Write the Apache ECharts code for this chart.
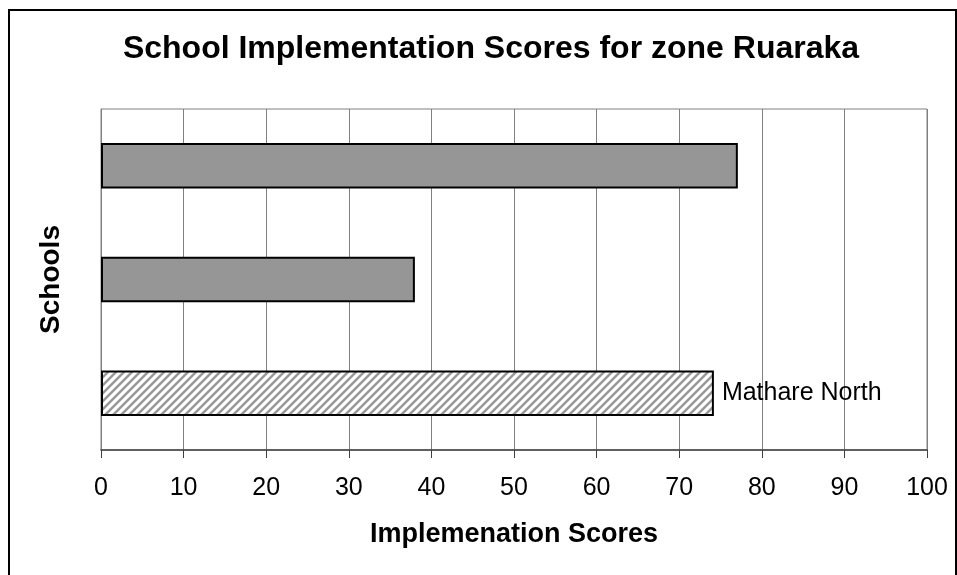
<!DOCTYPE html>
<html>
<head>
<meta charset="utf-8">
<title>School Implementation Scores</title>
<script src="https://cdn.jsdelivr.net/npm/echarts@6/dist/echarts.min.js"></script>
<style>
  html, body { margin: 0; padding: 0; background: #fff; }
  #chart { width: 957px; height: 575px; }
</style>
</head>
<body>
<div id="chart"></div>
<script>
// bottom to top, as the category axis draws them
const schools = ['Mathare North', 'School 2', 'School 3'];
const scores = [74.2, 38.0, 77.1];
const highlight = 'Mathare North';
const xTicks = [0, 10, 20, 30, 40, 50, 60, 70, 80, 90, 100];

const FONT = '"Liberation Sans", Arial, sans-serif';

// diagonal hatch for the highlighted school
const hatch = document.createElement('canvas');
hatch.width = 8;
hatch.height = 8;
const hc = hatch.getContext('2d');
hc.fillStyle = '#fff';
hc.fillRect(0, 0, 8, 8);
hc.strokeStyle = '#999999';
hc.lineWidth = 2.5;
hc.beginPath();
hc.moveTo(-2, 10); hc.lineTo(10, -2);
hc.moveTo(-2, 2); hc.lineTo(2, -2);
hc.moveTo(6, 10); hc.lineTo(10, 6);
hc.stroke();

const barData = scores.map((v, i) => {
  const item = { name: schools[i], value: v };
  if (schools[i] === highlight) {
    item.itemStyle = { color: { image: hatch, repeat: 'repeat' } };
    item.label = {
      show: true,
      position: 'right',
      distance: 8,
      formatter: '{b}',
      fontSize: 25,
      fontFamily: FONT,
      color: '#000'
    };
  }
  return item;
});

const chart = echarts.init(document.getElementById('chart'));
chart.setOption({
  animation: false,
  backgroundColor: '#fff',
  title: {
    text: 'School Implementation Scores for zone Ruaraka',
    left: 486,
    top: 28,
    textAlign: 'center',
    textStyle: { fontFamily: FONT, fontSize: 32, fontWeight: 'bold', color: '#000' }
  },
  graphic: [{
    type: 'rect',
    shape: { x: 9, y: 10, width: 947, height: 600 },
    style: { fill: 'none', stroke: '#000', lineWidth: 2 },
    silent: true
  }],
  grid: {
    left: 101, right: 30, top: 109, bottom: 125,
    show: true, borderColor: '#808080', borderWidth: 1
  },
  xAxis: {
    type: 'value',
    min: xTicks[0],
    max: xTicks[xTicks.length - 1],
    interval: xTicks[1] - xTicks[0],
    name: 'Implemenation Scores',
    nameLocation: 'middle',
    nameGap: 71,
    nameTextStyle: { fontFamily: FONT, fontSize: 27, fontWeight: 'bold', color: '#000' },
    axisLine: { show: true, lineStyle: { color: '#404040', width: 1.5 } },
    axisTick: { show: true, length: 8, lineStyle: { color: '#404040' } },
    axisLabel: { margin: 26, fontFamily: FONT, fontSize: 25, color: '#000' },
    splitLine: { show: true, lineStyle: { color: '#808080', width: 1 } }
  },
  yAxis: {
    type: 'category',
    data: schools,
    name: 'Schools',
    nameLocation: 'middle',
    nameGap: 36,
    nameTextStyle: { fontFamily: FONT, fontSize: 28, fontWeight: 'bold', color: '#000' },
    axisLine: { show: true, lineStyle: { color: '#808080' } },
    axisTick: { show: false },
    axisLabel: { show: false },
    splitLine: { show: false }
  },
  series: [{
    type: 'bar',
    data: barData,
    barWidth: '40%',
    itemStyle: { color: '#969696', borderColor: '#000', borderWidth: 2 },
    label: { show: false }
  }]
});
</script>
</body>
</html>
